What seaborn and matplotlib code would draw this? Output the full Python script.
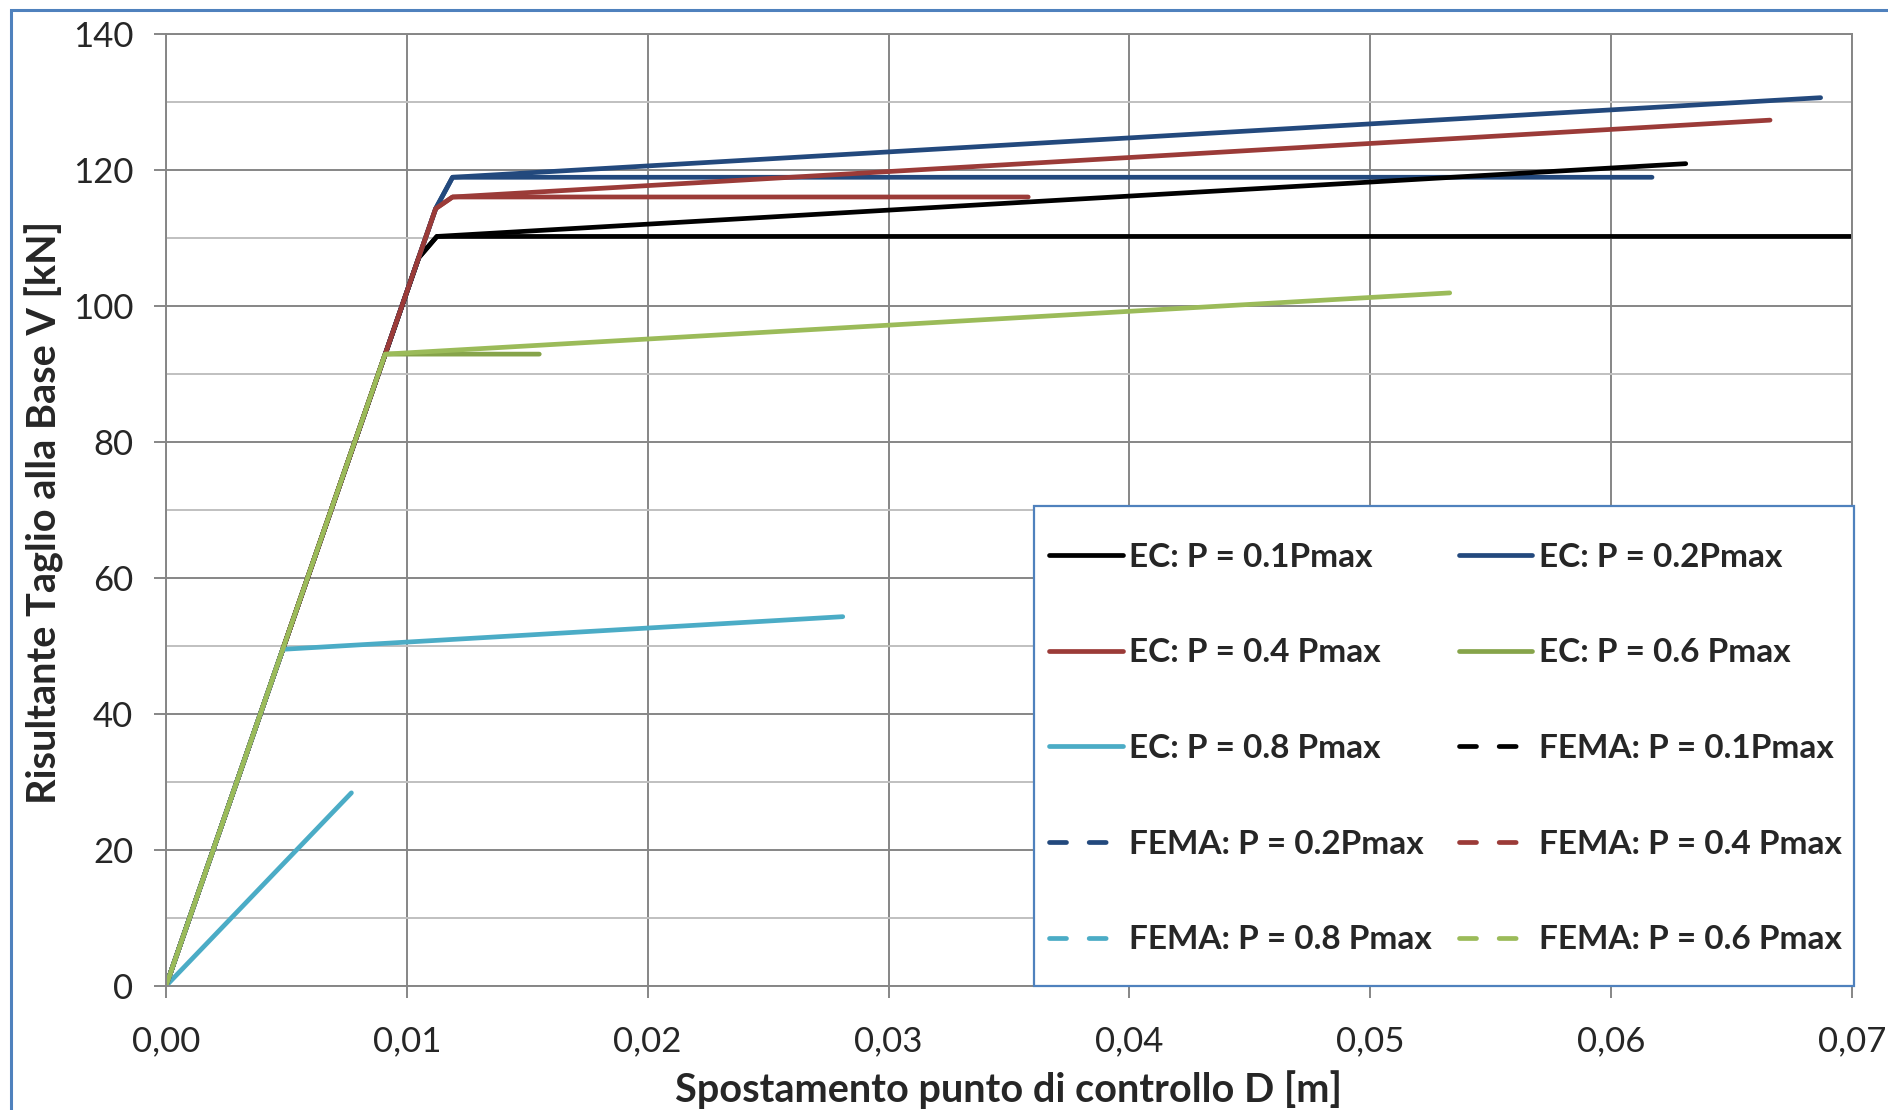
import pandas as pd
import seaborn as sns
import matplotlib.pyplot as plt
from matplotlib.lines import Line2D
from matplotlib.patches import Rectangle
from matplotlib.ticker import FuncFormatter, MultipleLocator

# Pushover curves: displacement D [m] and base shear V [kN]
ec_01_d = [0.0, 0.0105, 0.01125, 0.0755]
ec_01_v = [0.0, 107.1, 110.2, 110.2]
ec_02_d = [0.0, 0.0112, 0.0119, 0.0617]
ec_02_v = [0.0, 114.3, 118.9, 118.9]
ec_04_d = [0.0, 0.0112, 0.0119, 0.0358]
ec_04_v = [0.0, 114.3, 116.0, 116.0]
ec_06_d = [0.0, 0.0091, 0.0155]
ec_06_v = [0.0, 92.9, 92.9]
ec_08_d = [0.0, 0.0077]
ec_08_v = [0.0, 28.4]

fema_01_d = [0.0, 0.0105, 0.01125, 0.0631]
fema_01_v = [0.0, 107.1, 110.2, 120.9]
fema_02_d = [0.0, 0.0112, 0.0119, 0.0687]
fema_02_v = [0.0, 114.3, 118.9, 130.6]
fema_04_d = [0.0, 0.0112, 0.0119, 0.0666]
fema_04_v = [0.0, 114.3, 116.0, 127.3]
fema_08_d = [0.0, 0.00485, 0.0281]
fema_08_v = [0.0, 49.5, 54.3]
fema_06_d = [0.0, 0.0091, 0.0533]
fema_06_v = [0.0, 92.9, 101.9]

labels = ['EC: P = 0.1Pmax', 'EC: P = 0.2Pmax', 'EC: P = 0.4 Pmax', 'EC: P = 0.6 Pmax',
          'EC: P = 0.8 Pmax', 'FEMA: P = 0.1Pmax', 'FEMA: P = 0.2Pmax', 'FEMA: P = 0.4 Pmax',
          'FEMA: P = 0.8 Pmax', 'FEMA: P = 0.6 Pmax']
curves = [(ec_01_d, ec_01_v), (ec_02_d, ec_02_v), (ec_04_d, ec_04_v), (ec_06_d, ec_06_v),
          (ec_08_d, ec_08_v), (fema_01_d, fema_01_v), (fema_02_d, fema_02_v),
          (fema_04_d, fema_04_v), (fema_08_d, fema_08_v), (fema_06_d, fema_06_v)]
colors = ['#000000', '#23497D', '#9B3B38', '#86A44A', '#4BACC6',
          '#000000', '#23497D', '#9B3B38', '#4BACC6', '#9BBB59']
dashed = [False] * 5 + [True] * 5

sns.set_style('white')
plt.rcParams['font.family'] = ['Lato', 'DejaVu Sans']

fig = plt.figure(figsize=(18.88, 11.10), dpi=100)
ax = fig.add_axes([0.0879, 0.1117, 0.8930, 0.8579])

LW = 3.4
for (d, v), c in zip(curves, colors):
    df = pd.DataFrame({'D': d, 'V': v})
    sns.lineplot(data=df, x='D', y='V', ax=ax, sort=False, estimator=None,
                 color=c, lw=LW, legend=False, solid_capstyle='round',
                 solid_joinstyle='round')

ax.set_xlim(0, 0.07)
ax.set_ylim(0, 140)
ax.xaxis.set_major_locator(MultipleLocator(0.01))
ax.yaxis.set_major_locator(MultipleLocator(20))
ax.yaxis.set_minor_locator(MultipleLocator(10))
ax.xaxis.set_major_formatter(FuncFormatter(lambda x, p: f'{x:.2f}'.replace('.', ',')))
ax.yaxis.set_major_formatter(FuncFormatter(lambda y, p: f'{y:.0f}'))

grid_c = '#868686'
ax.grid(True, which='major', color=grid_c, lw=1.4)
ax.grid(True, which='minor', axis='y', color='#C0C0C0', lw=1.4)
ax.set_axisbelow(True)
for s in ax.spines.values():
    s.set_color(grid_c)
    s.set_linewidth(1.4)
ax.tick_params(which='major', direction='out', length=8.6, width=1.4, color=grid_c,
               labelsize=25, left=True, bottom=True)
ax.tick_params(axis='x', pad=20)
ax.tick_params(axis='y', pad=15)
ax.tick_params(which='minor', length=0)

ax.set_xlabel('Spostamento punto di controllo D [m]', fontsize=28.5, fontweight='bold')
ax.set_ylabel('Risultante Taglio alla Base V [kN]', fontsize=28.5, fontweight='bold')
ax.xaxis.set_label_coords(0.5, -0.109)
ax.xaxis.label.set_va('center')
ax.yaxis.set_label_coords(-0.072, 0.497)
ax.yaxis.label.set_va('center')

# legend box drawn separately so the entries can be placed freely inside it
ax.add_patch(Rectangle((0.515, 0.0), 0.486, 0.504, transform=ax.transAxes,
                       facecolor='white', edgecolor='#4F81BD', lw=1.6,
                       zorder=4, clip_on=False))

handles = []
for lab, c, dsh in zip(labels, colors, dashed):
    if dsh:
        h = Line2D([], [], color=c, lw=LW, linestyle=(0, (3.6, 4.8)), dash_capstyle='round')
    else:
        h = Line2D([], [], color=c, lw=LW, solid_capstyle='round')
    handles.append((h, lab))
order = [0, 2, 4, 6, 8, 1, 3, 5, 7, 9]
leg = ax.legend([handles[i][0] for i in order], [handles[i][1] for i in order],
                ncol=2, loc='upper left', bbox_to_anchor=(0.524, 0.4655, 0.470, 0.0),
                mode='expand', prop={'size': 24, 'weight': 'bold'},
                handlelength=2.2, handletextpad=0.2, labelspacing=2.0,
                columnspacing=0.9, borderaxespad=0, borderpad=0, frameon=False)
leg.set_zorder(5)

# outer chart-area border (cut at right and bottom like the source)
fig.patches.append(Rectangle((11 / 1888, -0.05), 1.2, 1.05 - 10 / 1110,
                             transform=fig.transFigure, fill=False,
                             edgecolor='#4F81BD', lw=2.2))

fig.savefig('out.png', dpi=100)
